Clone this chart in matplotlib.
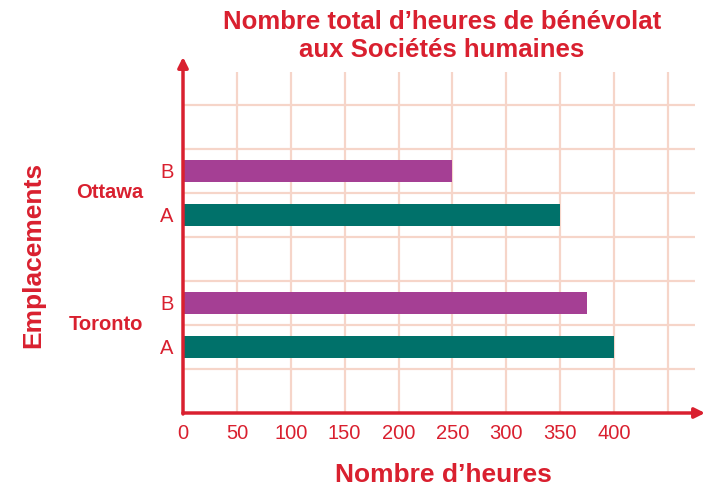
import matplotlib
matplotlib.use("Agg")
import matplotlib.pyplot as plt

# data
cities = ["Toronto", "Ottawa"]
series = ["A", "B"]
hours_a = [400, 350]
hours_b = [375, 250]
x_ticks = [0, 50, 100, 150, 200, 250, 300, 350, 400, 450]
x_labels = ["0", "50", "100", "150", "200", "250", "300", "350", "400", ""]

RED = "#d9202f"
TEAL = "#00716a"
PURPLE = "#a53f94"
GRID = "#f6d5c9"
SANS = ["Liberation Sans", "DejaVu Sans"]

W, H = 706, 490
fig = plt.figure(figsize=(W / 100, H / 100), dpi=100)
x0, x1, y0, y1 = 183, 695, 413, 72
ax = fig.add_axes([x0 / W, 1 - y0 / H, (x1 - x0) / W, (y0 - y1) / H])

# bar centres: groups of two, with an empty slot between groups
pos_a = [1.5, 4.5]
pos_b = [2.5, 5.5]
ax.barh(pos_a, hours_a, height=0.5, color=TEAL, zorder=3)
ax.barh(pos_b, hours_b, height=0.5, color=PURPLE, zorder=3)

ax.set_xlim(0, 475)
ax.set_ylim(0, 7.75)

ax.set_xticks(x_ticks)
ax.set_xticklabels(x_labels)
ax.set_yticks(sorted(pos_a + pos_b))
ax.set_yticklabels(["A", "B", "A", "B"])
ax.set_yticks(range(1, 8), minor=True)
ax.tick_params(axis="both", length=0, colors=RED, labelsize=14.5)
ax.tick_params(axis="x", pad=8)
ax.tick_params(axis="y", pad=7)
ax.tick_params(axis="y", which="minor", length=0)
for lab in ax.get_xticklabels() + ax.get_yticklabels():
    lab.set_family(SANS)

ax.grid(axis="x", which="major", color=GRID, lw=1.6, zorder=0)
ax.grid(axis="y", which="minor", color=GRID, lw=1.6, zorder=0)
for s in ax.spines.values():
    s.set_visible(False)

# city labels next to each pair
for c, pa, pb in zip(cities, pos_a, pos_b):
    ax.text(-0.078, (pa + pb) / 2, c, transform=ax.get_yaxis_transform(),
            ha="right", va="center", color=RED, fontsize=14.5,
            fontweight="bold", family=SANS)

# axes with arrow heads
arrow = dict(arrowstyle="-|>,head_length=0.6,head_width=0.3", color=RED, lw=2.5,
             shrinkA=0, shrinkB=0)
ax.annotate("", xy=(705, H - y0), xytext=(x0, H - y0),
            xycoords="figure pixels", textcoords="figure pixels",
            arrowprops=arrow, annotation_clip=False)
ax.annotate("", xy=(x0, H - 57), xytext=(x0, H - y0 - 1),
            xycoords="figure pixels", textcoords="figure pixels",
            arrowprops=arrow, annotation_clip=False)

fig.text(442 / W, 1 - 36 / H, "Nombre total d\u2019heures de bénévolat\naux Sociétés humaines",
         ha="center", va="center", color=RED, fontsize=18.5, fontweight="bold",
         family=SANS, linespacing=1.2)
fig.text(443 / W, 1 - 475 / H, "Nombre d\u2019heures", ha="center", va="center",
         color=RED, fontsize=19, fontweight="bold", family=SANS)
fig.text(33 / W, 1 - 255 / H, "Emplacements", ha="center", va="center",
         rotation=90, color=RED, fontsize=19, fontweight="bold", family=SANS)

fig.savefig("out.png", dpi=100)
